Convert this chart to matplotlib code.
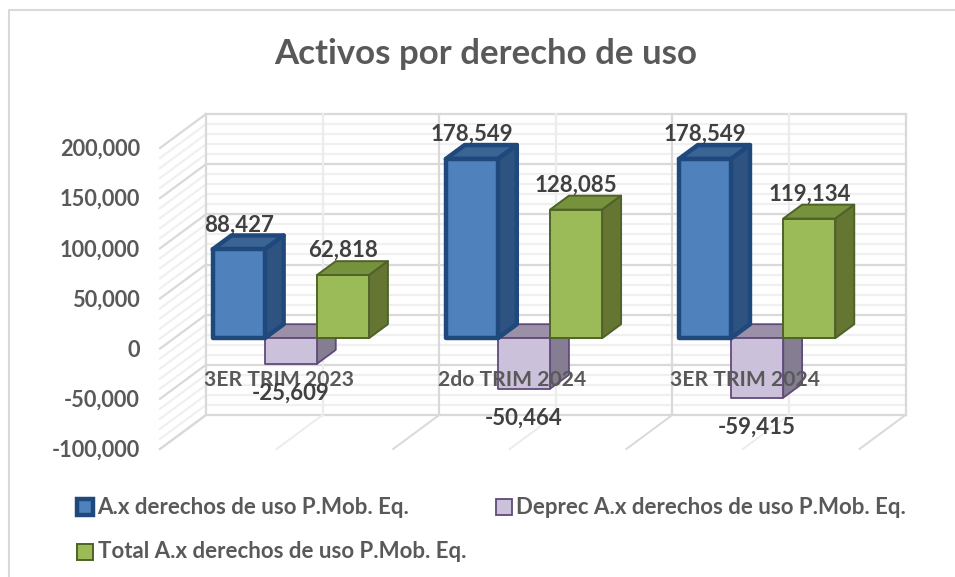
"""Activos por derecho de uso: Excel style 3D clustered columns, drawn in 2D."""
import matplotlib
matplotlib.use("Agg")
import matplotlib.pyplot as plt
from matplotlib.lines import Line2D
from matplotlib.patches import Polygon, Rectangle

plt.rcParams["font.family"] = ["Lato", "DejaVu Sans"]

CATEGORIES = ["3ER TRIM 2023", "2do TRIM 2024", "3ER TRIM 2024"]
SERIES_NAMES = [
    "A.x derechos de uso P.Mob. Eq.",
    "Deprec A.x derechos de uso P.Mob. Eq.",
    "Total A.x derechos de uso P.Mob. Eq.",
]
ACTIVOS = [88427, 178549, 178549]
DEPREC = [-25609, -50464, -59415]
TOTAL = [62818, 128085, 119134]
Y_TICKS = [-100000, -50000, 0, 50000, 100000, 150000, 200000]

W, H = 955, 577
# back wall in pixels
LEFT, RIGHT, TOP, BOTTOM = 206, 905.5, 114, 415
# depth of the floor, in data units
DEPTH_X = 46 / ((RIGHT - LEFT) / 3)
DEPTH_Y = 34 / ((BOTTOM - TOP) / 300000)
BAR_W = 0.2236
T_FRONT, T_BACK = 0.69, 0.28

MAJOR = "#d9d9d9"
MINOR = "#f0f0f0"
TICK_C = "#595959"
LABEL_C = "#404040"

# order, colours: face, side, top, edge, edge width
STYLES = {
    "blue": ("#4f81bd", "#2f5380", "#3a6494", "#1f497d", 3.2),
    "purple": ("#ccc1da", "#857d92", "#9c8fa8", "#604a7b", 1.3),
    "green": ("#9bbb59", "#647632", "#76923c", "#4f6228", 1.4),
}


def project(x, v, t):
    return (x - t * DEPTH_X, v - t * DEPTH_Y)


def draw_bar(ax, x0, value, style):
    face, side, top, edge, lw = STYLES[style]
    x1 = x0 + BAR_W
    hi, lo = max(value, 0), min(value, 0)
    kw = dict(edgecolor=edge, linewidth=lw, joinstyle="round", clip_on=False)
    ax.add_patch(Polygon([project(x0, hi, T_FRONT), project(x1, hi, T_FRONT),
                          project(x1, hi, T_BACK), project(x0, hi, T_BACK)],
                         facecolor=top, zorder=3, **kw))
    ax.add_patch(Polygon([project(x1, lo, T_FRONT), project(x1, hi, T_FRONT),
                          project(x1, hi, T_BACK), project(x1, lo, T_BACK)],
                         facecolor=side, zorder=3, **kw))
    ax.add_patch(Polygon([project(x0, lo, T_FRONT), project(x1, lo, T_FRONT),
                          project(x1, hi, T_FRONT), project(x0, hi, T_FRONT)],
                         facecolor=face, zorder=3, **kw))


fig = plt.figure(figsize=(W / 100, H / 100), dpi=100, facecolor="white")
ax = fig.add_axes([LEFT / W, 1 - BOTTOM / H, (RIGHT - LEFT) / W, (BOTTOM - TOP) / H])
ax.set_xlim(0, 3)
ax.set_ylim(-100000, 200000)
ax.axis("off")

# chart frame
fig.add_artist(Line2D([8.5 / W, 8.5 / W, 1], [0, 1 - 9.5 / H, 1 - 9.5 / H], color=MAJOR, lw=1.5))

# walls and floor
for v in range(-100000, 200001, 10000):
    major = v % 50000 == 0
    color, lw, z = (MAJOR, 1.6, 2) if major else (MINOR, 1.6, 1)
    ax.plot([0, 3], [v, v], color=color, lw=lw, zorder=z, clip_on=False)
    a, b = project(0, v, 0), project(0, v, 1)
    ax.plot([a[0], b[0]], [a[1], b[1]], color=color, lw=lw, zorder=z, clip_on=False)

for k in range(7):
    x = k * 0.5
    color = MAJOR if k % 2 == 0 else "#ececec"
    ax.plot([x, x], [-100000, 200000], color=color, lw=1.6, zorder=2, clip_on=False)
    a, b = project(x, -100000, 0), project(x, -100000, 1)
    ax.plot([a[0], b[0]], [a[1], b[1]], color=color, lw=1.4, zorder=2, clip_on=False)

for v in Y_TICKS:
    x, y = project(0, v, 1)
    ax.annotate(f"{v:,}", (x, y), xytext=(-20, -1.5), textcoords="offset pixels",
                ha="right", va="center", fontsize=15.7, fontweight="bold",
                color=TICK_C, annotation_clip=False)

for i in range(len(CATEGORIES)):
    start = i + (1 - 3 * BAR_W) / 2
    draw_bar(ax, start + BAR_W, DEPREC[i], "purple")
    draw_bar(ax, start, ACTIVOS[i], "blue")
    draw_bar(ax, start + 2 * BAR_W, TOTAL[i], "green")

    for j, values in enumerate([ACTIVOS, DEPREC, TOTAL]):
        v = values[i]
        x, y = project(start + (j + 0.5) * BAR_W, v, T_FRONT)
        off = 24.5 if v > 0 else -29
        ax.annotate(f"{v:,}", (x, y), xytext=(0, off), textcoords="offset pixels",
                    ha="center", va="center", fontsize=16, fontweight="bold",
                    color=LABEL_C, zorder=6, annotation_clip=False)

    x, y = project(i + 0.5, 0, T_FRONT)
    ax.annotate(CATEGORIES[i], (x, y), xytext=(-12, -41.5), textcoords="offset pixels",
                ha="center", va="center", fontsize=15.2, fontweight="bold",
                color=TICK_C, zorder=5, annotation_clip=False)

fig.text(486 / W, 1 - 53.5 / H, "Activos por derecho de uso", ha="center", va="center",
         fontsize=25.1, fontweight="bold", color=TICK_C)

# legend
LEGEND_POS = [(77, 507, "blue"), (495.5, 507, "purple"), (77, 551.5, "green")]
for name, (px, py, style) in zip(SERIES_NAMES, LEGEND_POS):
    face, _, _, edge, lw = STYLES[style]
    fig.add_artist(Rectangle((px / W, 1 - (py + 8) / H), 16 / W, 16 / H, transform=fig.transFigure,
                             facecolor=face, edgecolor=edge, linewidth=lw))
    fig.text((px + 20.5) / W, 1 - py / H, name, ha="left", va="center",
             fontsize=16, fontweight="bold", color=TICK_C)

fig.savefig("out.png", dpi=100, facecolor="white")
